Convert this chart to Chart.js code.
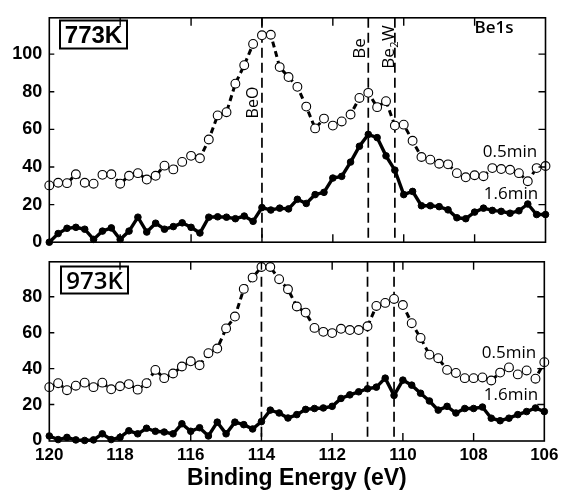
<!DOCTYPE html>
<html><head><meta charset="utf-8">
<script src="https://cdn.jsdelivr.net/npm/chart.js@4"></script>
<style>
html,body{margin:0;padding:0;background:#fff;}
#wrap{position:relative;width:563px;height:498px;overflow:hidden;}
#c1{position:absolute;left:0;top:0;}
#c2{position:absolute;left:0;top:244px;}
</style></head><body>
<div id="wrap"><canvas id="c1" width="563" height="260"></canvas><canvas id="c2" width="563" height="254"></canvas></div>
<script>
const energy = [120,119.75,119.5,119.25,119,118.75,118.5,118.25,118,117.75,117.5,117.25,117,116.75,116.5,116.25,116,115.75,115.5,115.25,115,114.75,114.5,114.25,114,113.75,113.5,113.25,113,112.75,112.5,112.25,112,111.75,111.5,111.25,111,110.75,110.5,110.25,110,109.75,109.5,109.25,109,108.75,108.5,108.25,108,107.75,107.5,107.25,107,106.75,106.5,106.25,106];
const k773_05min = [30.2,31.6,31.4,36.1,31.6,31.1,35.8,36.1,31.1,35.3,36.7,33.3,35.3,40.7,38.7,42.7,45.9,44.6,54.6,67.4,69.1,84.3,94.1,105.4,110,110.3,93.1,87.8,82.6,72.1,60.5,65.7,62,64.2,67.9,76.7,79.4,71.8,75,62,62.5,53.9,45.3,43.9,41.7,41.4,36.7,34.5,35.6,35.1,39.4,38.9,38.5,36.7,32.4,39.4,40.5];
const k773_16min = [0,4.6,7.4,7.9,6.9,1.5,5.9,7.6,1.5,5.9,13.3,5.4,10.1,6.9,8.3,10.3,7.9,4.9,13.3,13.5,13.3,12.5,13.9,11.1,18.4,17.1,18.1,17.7,22.8,20.6,25.3,26.5,34.1,35,42.6,51,57.3,55.6,45.9,38.3,25.3,27,19.4,19.4,18.9,17.2,13,12.5,16,18.1,16.9,16.4,15.4,16.7,20.3,14.7,14.7];
const k973_05min = [29.7,31.9,28,30.5,32.2,29.7,32.2,28.5,30.2,31.4,28.3,31.9,39.3,34.7,37.3,41.2,44.1,41.9,48.6,51.2,62.4,69,84.4,90.7,96.6,96.6,89.8,84.2,74.6,71.2,62.7,60.5,59.8,62.2,61.5,61.5,63.6,74.9,76.6,78.8,75.4,65.3,57.1,47.8,45.8,39.3,37.6,34.7,34.7,35.1,33.4,37.8,40.7,36.8,39,34.4,43.6];
const k973_16min = [2.5,0.5,1.7,0.3,0,0.3,3.7,0.5,1.7,5.4,3.7,6.8,5.1,4.7,3.7,9.3,5.1,7.1,2.5,10.2,3.7,10.2,8.8,6.4,10.5,16.9,15.3,12.5,14.4,17.3,17.8,18.1,19,23.4,25.4,27.1,28.8,29.7,34.7,25.1,33.6,30.8,26.3,22,16.9,19,15.3,17.8,17.8,18.6,12.4,11,12.4,14.4,16.1,18.1,16.1];
const xTickValues = [120,118,116,114,112,110,108,106];
const yTicksTop = [0,20,40,60,80,100];
const yTicksBottom = [0,20,40,60,80];
const refLines = [114, 111, 110.25];
const seriesNames = ['0.5min','1.6min'];

const LW = 49.3, RP = 17.5;
const pts = arr => arr.map((v,i)=>({x:energy[i], y:v}));

function datasets(open, filled){
  return [
    {label:seriesNames[0], data:pts(open), borderColor:'#000', borderWidth:3, borderDash:[6,4],
     pointRadius:4.4, pointBackgroundColor:'#fff', pointBorderColor:'#000', pointBorderWidth:1.1, tension:0, clip:false},
    {label:seriesNames[1], data:pts(filled), borderColor:'#000', borderWidth:3.4, 
     pointRadius:3.3, pointBackgroundColor:'#000', pointBorderColor:'#000', pointBorderWidth:1, tension:0, clip:false}
  ];
}

function drawText(ctx, s, cx, cy, font, size, cap, rot){
  ctx.save();
  ctx.translate(cx, cy);
  if (rot) ctx.rotate(rot);
  ctx.font = font;
  ctx.fillStyle = '#000';
  ctx.textAlign = 'center';
  ctx.textBaseline = 'alphabetic';
  ctx.fillText(s, 0, size*cap/2);
  ctx.restore();
}

function panelPlugin(opts){
  return {
    id:'panel'+opts.name,
    beforeDatasetsDraw(chart){
      const {ctx, chartArea:a, scales:{x}} = chart;
      ctx.save();
      ctx.strokeStyle = '#000'; ctx.lineWidth = 1.7; ctx.setLineDash([10,5]);
      refLines.forEach(v=>{
        const px = x.getPixelForValue(v);
        ctx.beginPath(); ctx.moveTo(px, a.top); ctx.lineTo(px, a.bottom); ctx.stroke();
      });
      ctx.restore();
    },
    afterDraw(chart){
      const {ctx, chartArea:a, scales:{x,y}} = chart;
      ctx.save();
      ctx.strokeStyle = '#000'; ctx.lineWidth = 1.6; ctx.setLineDash([]);
      ctx.strokeRect(a.left, a.top, a.right-a.left, a.bottom-a.top);
      ctx.lineWidth = 1.4;
      xTickValues.slice(1,-1).forEach(v=>{
        const px = x.getPixelForValue(v);
        ctx.beginPath(); ctx.moveTo(px,a.top); ctx.lineTo(px,a.top+8);
        ctx.moveTo(px,a.bottom); ctx.lineTo(px,a.bottom-8); ctx.stroke();
      });
      opts.yTicks.slice(1).forEach(v=>{
        const py = y.getPixelForValue(v);
        ctx.beginPath(); ctx.moveTo(a.left,py); ctx.lineTo(a.left+5,py);
        ctx.moveTo(a.right,py); ctx.lineTo(a.right-7,py); ctx.stroke();
      });
      ctx.lineWidth = 2;
      ctx.strokeRect(a.left+opts.box[0], a.top+opts.box[1], opts.box[2], opts.box[3]);
      ctx.restore();
      drawText(ctx, opts.name, a.left+opts.box[0]+opts.box[2]/2, a.top+opts.box[1]+opts.box[3]/2, opts.boxFont, 24, 0.716);
      const lf = '17px "Open Sans"';
      drawText(ctx, seriesNames[0], opts.l05[0], opts.l05[1], lf, 17, 0.714);
      drawText(ctx, seriesNames[1], opts.l16[0], opts.l16[1], lf, 17, 0.714);
      if (opts.extra) opts.extra(ctx, a, x, y);
    }
  };
}

function baseOptions(ymin, ymax, yTicks, showX, padding){
  return {
    responsive:false, animation:false, devicePixelRatio:1,
    layout:{padding},
    plugins:{legend:{display:false}, tooltip:{enabled:false}},
    scales:{
      x:{type:'linear', min:106, max:120, reverse:true, display:showX,
         grid:{display:false, drawTicks:false}, border:{display:false},
         afterBuildTicks: s=>{ s.ticks = xTickValues.map(v=>({value:v})); },
         afterFit: s=>{ s.height = showX ? 57 : 0; },
         ticks:{color:'#000', padding:4.5, maxRotation:0, autoSkip:false, font:{family:'"Liberation Sans"', weight:'bold', size:17}},
         title:{display:true, text:'Binding Energy (eV)', color:'#000', padding:{top:0,bottom:6}, font:{family:'"Liberation Sans"', weight:'bold', size:23}}
      },
      y:{type:'linear', min:ymin, max:ymax,
         grid:{display:false, drawTicks:false}, border:{display:false},
         afterBuildTicks: s=>{ s.ticks = yTicks.map(v=>({value:v})); },
         afterFit: s=>{ s.width = LW; },
         ticks:{color:'#000', padding:7, font:{family:'"Liberation Sans"', weight:'bold', size:18}}
      }
    }
  };
}

const OS = '"Open Sans"';
new Chart(document.getElementById('c1'), {
  type:'line',
  data:{datasets:datasets(k773_05min, k773_16min)},
  options: baseOptions(0, 119.3, yTicksTop, false, {top:7.3, bottom:17.3, left:0, right:RP}),
  plugins:[panelPlugin({name:'773K', yTicks:yTicksTop, box:[10.7,2.7,67,28], boxFont:'bold 24px "Liberation Sans"',
    l05:[510,150.5], l16:[511,192.5],
    extra:(ctx,a,x,y)=>{
      drawText(ctx, 'Be1s', 494, 26.7, `600 17px ${OS}`, 17, 0.714);
      drawText(ctx, 'BeO', 252, 102.5, `16px ${OS}`, 16, 0.714, -Math.PI/2);
      drawText(ctx, 'Be', 358.5, 48.5, `17px ${OS}`, 17, 0.714, -Math.PI/2);
      ctx.save();
      ctx.translate(388, 47); ctx.rotate(-Math.PI/2);
      ctx.fillStyle = '#000'; ctx.textBaseline = 'alphabetic'; ctx.textAlign = 'left';
      const f1 = `17px ${OS}`, f2 = `11px ${OS}`;
      ctx.font = f1; const w1 = ctx.measureText('Be').width, w3 = ctx.measureText('W').width;
      ctx.font = f2; const w2 = ctx.measureText('2').width;
      const tot = w1+w2+w3+1; let xx = -tot/2; const base = 17*0.714/2;
      ctx.font = f1; ctx.fillText('Be', xx, base); xx += w1;
      ctx.font = f2; ctx.fillText('2', xx+0.5, base+4); xx += w2+1;
      ctx.font = f1; ctx.fillText('W', xx, base);
      ctx.restore();
    }})]
});

new Chart(document.getElementById('c2'), {
  type:'line',
  data:{datasets:datasets(k973_05min, k973_16min)},
  options: baseOptions(-0.3, 99.5, yTicksBottom, true, {top:1.3, bottom:0, left:0, right:RP}),
  plugins:[panelPlugin({name:'973K', yTicks:yTicksBottom, box:[11.7,4.7,67,27], boxFont:`600 24px ${OS}`,
    l05:[509,107.5], l16:[511,149.5]})]
});
</script>
</body></html>
